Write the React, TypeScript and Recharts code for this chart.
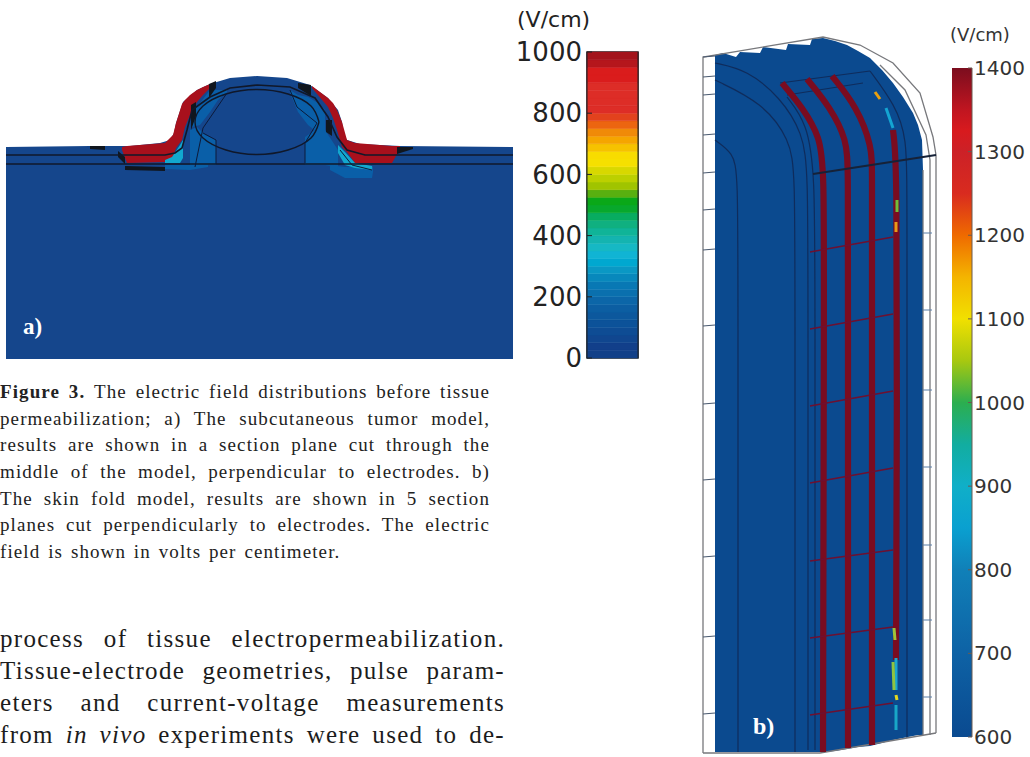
import { Area, Bar, ComposedChart, Line, ReferenceArea, XAxis, YAxis } from "recharts";

// Panel a: field map section as [x, top, bottom]
const tissueA = [[6,147,359],[90,146,359],[130,146,359],[160,143,359],[170,140,359],[174,133,359],[176,123,359],[183,102,359],[197,90,359],[210,84,359],[230,78,359],[257,76,359],[287,78,359],[310,85,359],[328,98,359],[338,110,359],[342,122,359],[344,135,359],[347,140,359],[360,144,359],[400,146,359],[513,147,359]];
const redLeft = [[122,147,150],[127,146,163],[165,143,162],[173,135,157],[176,123,148],[182,104,140],[185,100,127],[190,95,115],[197,90,102],[203,87,95],[210,84,88]];
const redRight = [[312,86,88],[328,98,107],[333,103,118],[337,110,130],[342,122,147],[347,140,152],[355,143,163],[392,146,163],[400,146,149]];
const midBlue = [
  [[192,113,127],[200,103,125],[210,90,112],[218,90,100],[227,90,92]],
  [[190,130,165],[197,127,165],[205,135,165],[216,140,165]],
  [[290,90,93],[298,95,112],[308,97,125],[318,103,133],[325,110,130]],
  [[305,137,165],[315,130,165],[325,130,165],[338,150,167]],
  [[330,165,170],[345,167,178],[372,167,178],[373,166,172]],
  [[165,165,169],[190,165,170],[208,165,167]],
];
const cyanBits = [
  [[165,160,163],[172,157,163],[180,145,163],[183,140,158]],
  [[338,145,153],[345,152,165],[355,163,168],[372,166,170]],
];
const blackBits = [
  [[90,146,149],[105,146,150]],
  [[118,151,157],[125,157,164]],
  [[125,166,170],[165,167,171]],
  [[209,84,98],[216,81,88]],
  [[191,105,130],[196,102,116]],
  [[298,83,88],[311,85,96]],
  [[326,120,132],[332,120,136]],
  [[397,147,154],[413,147,149]],
];
const skinLine = [[6,155],[120,155],[165,155],[175,153],[182,148],[187,130],[192,110],[210,97],[230,88],[257,85],[290,87],[315,98],[328,117],[337,137],[347,150],[365,155],[513,155]];
const fatLine = [[6,164],[513,164]];
const tumorLine = [[319,122],[311,138],[288,150],[257,154.5],[226,150],[203,138],[195,122],[203,106],[226,94],[257,89.5],[288,94],[311,106],[319,122]];
const meshLines = [
  [[227,93],[203,128],[195,167]],
  [[203,133],[216,140],[216,164]],
  [[290,90],[297,107],[317,123],[305,143],[305,163]],
  [[340,150],[352,165],[372,170]],
];

// Panel b: skin fold model
const tissueB = [[715,55,752],[723,53,752],[736,57,752],[740,52,752],[760,53,752],[763,47,752],[786,50,752],[788,44,752],[810,45,752],[812,39,752],[823,38,752],[835,41,751],[847,45,749],[858,51,747],[870,58,746],[882,70,743],[893,83,740],[903,97,738],[913,113,736],[918,125,735],[922,140,735],[923,170,735]];
const frameOuter = [[703,753],[703,57],[823,37],[860,45],[893,63],[920,93],[933,137],[936,155],[936,733]];
const frameBottom = [[703,753],[820,753],[936,733]];
const frameInner = [
  [[930,735],[930,160],[926,135],[905,90],[880,65]],
  [[923,170],[923,735]],
];
const electrodes = [
  [[782,83],[803,108],[820,137],[824,170],[824,300],[823,752]],
  [[807,79],[830,107],[847,140],[848,170],[848,300],[848,748]],
  [[832,76],[857,107],[872,147],[872,170],[872,300],[872,745]],
  [[893,130],[897,163],[897,400],[896,660]],
];
const sectionsLeft = [252, 329, 406, 483, 561, 638, 715];
const sectionsRight = [237, 314, 391, 468, 550, 627, 703];
const geometryLines = [
  [[715,63],[747,70],[780,97],[803,133],[808,173],[808,300],[808,750]],
  [[715,80],[763,103],[790,140],[795,173],[795,300],[795,752]],
  [[715,140],[733,153],[738,173],[738,300],[738,752]],
  [[787,97],[807,123],[815,173],[815,300],[815,750]],
  [[870,71],[895,105],[907,137],[907,200],[907,738]],
  [[780,83],[870,71]],
  [[787,95],[863,83]],
];
const ticksLeftB = [57, 77, 95, 135, 173, 210, 250, 326, 404, 480, 557, 637, 714];
const ticksRightB = [233, 310, 390, 467, 545, 620, 697];
const speckles = [
  { color: "#14a5d2", pts: [[886,108],[893,128]] },
  { color: "#e8a010", pts: [[875,92],[880,99]] },
  { color: "#6fbe3a", pts: [[897,200],[897,212]] },
  { color: "#e89a18", pts: [[896,222],[896,232]] },
  { color: "#9ec43a", pts: [[894,628],[895,640]] },
  { color: "#1aa6cf", pts: [[896,658],[896,690]] },
  { color: "#8fc540", pts: [[893,662],[894,690]] },
  { color: "#e4d820", pts: [[896,695],[897,700]] },
  { color: "#18a8c8", pts: [[896,705],[896,730]] },
];

// Colour bars
const ticksA = [0, 200, 400, 600, 800, 1000];
const bandColorsA = ["#124088","#123f8a","#10468f","#0e4c94","#0c5299","#0c589d","#0c5ea2","#0c66a8","#0a70ae","#0878b4","#0888bc","#0a98c4","#00a8d0","#10b4d4","#16b8c4","#14b4b0","#10b498","#10b080","#08ac60","#08a82c","#0aa818","#58b010","#a0c400","#bcd000","#d8d800","#f5e000","#f8dc00","#f6c200","#f5a500","#f08a08","#ec6510","#e2421d","#dd2d27","#dd2d27","#dd2d27","#dd2d27","#da1c1c","#da1c1c","#b5161c","#a3141c"];
const ticksB = [600, 700, 800, 900, 1000, 1100, 1200, 1300, 1400];
const gradientB = [
  [1400,"#7b0d1e"],[1350,"#c01520"],[1325,"#d81a1e"],[1300,"#cc2127"],[1250,"#d92b1f"],[1200,"#ef6a00"],[1150,"#f4b400"],[1100,"#f1e000"],[1050,"#a8c810"],[1000,"#2cae4f"],[950,"#12ada0"],[900,"#10afc8"],[850,"#0aa0d0"],[800,"#1080b8"],[700,"#0e62a5"],[600,"#0a4a90"],
] as const;

const captionLines = [
  "The electric field distributions before tissue",
  "permeabilization; a) The subcutaneous tumor model,",
  "results are shown in a section plane cut through the",
  "middle of the model, perpendicular to electrodes. b)",
  "The skin fold model, results are shown in 5 section",
  "planes cut perpendicularly to electrodes. The electric",
];
const captionLast = "field is shown in volts per centimeter.";
const bodyLines = [
  "process of tissue electropermeabilization.",
  "Tissue-electrode geometries, pulse param-",
  "eters and current-voltage measurements",
];

const serif = "'Liberation Serif', serif";
const sans = "'DejaVu Sans', sans-serif";

const band = (rows: number[][]) => rows.map(([x, t, b]) => ({ x, y: [t, b] }));
const path = (pts: number[][]) => pts.map(([x, y]) => ({ x, y }));

function fill(rows: number[][], color: string, key: string) {
  return <Area key={key} data={band(rows)} dataKey="y" type="linear" fill={color} fillOpacity={1} stroke="none" dot={false} activeDot={false} isAnimationActive={false} />;
}
function stroke(pts: number[][], color: string, width: number, key: string, curve: "linear" | "natural" | "basis" = "linear") {
  return <Line key={key} data={path(pts)} dataKey="y" type={curve} stroke={color} strokeWidth={width} dot={false} activeDot={false} isAnimationActive={false} />;
}

const barRowA = [Object.fromEntries(bandColorsA.map((_, i) => ["s" + i, 25]))];
const noDot = { r: 0, fill: "none", stroke: "none" };

function Text({ x, y, size, children, ...rest }: any) {
  return <div style={{ position: "absolute", left: x, top: y, fontSize: size, whiteSpace: "nowrap", lineHeight: 1, ...rest }}>{children}</div>;
}

export default function App() {
  return (
    <div style={{ position: "absolute", left: 0, top: 0, width: 1030, height: 757, overflow: "hidden", background: "#fff" }}>
      <ComposedChart width={1030} height={757} margin={{ top: 0, right: 0, bottom: 0, left: 0 }} style={{ position: "absolute", left: 0, top: 0 }}>
        <XAxis type="number" dataKey="x" domain={[0, 1030]} hide allowDataOverflow />
        <YAxis type="number" domain={[0, 757]} reversed hide allowDataOverflow width={0} />
        {fill(tissueA, "#15468c", "tissueA")}
        {midBlue.map((r, i) => fill(r, "#0a5fa8", "mid" + i))}
        {fill(redLeft, "#a8101c", "redL")}
        {fill(redRight, "#a8101c", "redR")}
        {cyanBits.map((r, i) => fill(r, "#12a8cf", "cy" + i))}
        {blackBits.map((r, i) => fill(r, "#10161e", "bk" + i))}
        {fill(tissueB, "#0b4a8f", "tissueB")}
        {stroke(skinLine, "#10182a", 1.6, "skin")}
        {stroke(fatLine, "#10182a", 1.6, "fat")}
        {stroke(tumorLine, "#10182a", 1.4, "tumor", "natural")}
        {meshLines.map((p, i) => stroke(p, "#0c1a3a", 1, "mesh" + i))}
        {geometryLines.map((p, i) => stroke(p, "#0f2c5c", 1.2, "geo" + i, "basis"))}
        {stroke(frameOuter, "#77787c", 1.3, "frameOuter")}
        {stroke(frameBottom, "#77787c", 1.6, "frameBottom")}
        {frameInner.map((p, i) => stroke(p, "#77787c", 1.3, "frame" + i))}
        {ticksLeftB.map((y, i) => stroke([[703, y], [715, y - 1]], "#4a5a70", 1.2, "tl" + i))}
        {ticksRightB.map((y, i) => stroke([[923, y], [932, y]], "#5a7ea8", 1, "tr" + i))}
        {electrodes.map((p, i) => stroke(p, "#7a0c20", 6.2, "el" + i, "basis"))}
        {sectionsLeft.map((y, i) => stroke([[810, y], [893, sectionsRight[i]]], "#6e1030", 1.6, "sec" + i))}
        {stroke([[813, 174], [936, 155]], "#162238", 2, "plane")}
        {speckles.map((s, i) => stroke(s.pts, s.color, 3, "sp" + i))}
      </ComposedChart>

      <ComposedChart width={150} height={382} data={barRowA} barCategoryGap={0} margin={{ top: 52, right: 0, bottom: 24, left: 0 }} style={{ position: "absolute", left: 500, top: 0 }}>
        <XAxis hide />
        <YAxis yAxisId="l" type="number" domain={[0, 1000]} ticks={ticksA} width={87} tickSize={-5} tickMargin={10} stroke="#1c2024" tick={{ fontSize: 26, fontFamily: sans, fill: "#222" }} interval={0} />
        <YAxis yAxisId="r" orientation="right" type="number" domain={[0, 1000]} ticks={ticksA} width={12} tickSize={-5} tick={false} stroke="#1c2024" />
        {bandColorsA.map((c, i) => (
          <Bar key={i} yAxisId="l" dataKey={"s" + i} stackId="a" fill={c} stroke={c} strokeWidth={0.5} isAnimationActive={false} />
        ))}
        <Line yAxisId="r" dataKey="s0" stroke="none" dot={noDot} activeDot={false} isAnimationActive={false} />
        <ReferenceArea yAxisId="l" y1={0} y2={1000} fill="none" stroke="#1c2024" strokeWidth={1.5} />
      </ComposedChart>

      <ComposedChart width={78} height={757} data={[{ v: 1400 }]} barCategoryGap={0} margin={{ top: 68, right: 0, bottom: 20, left: 0 }} style={{ position: "absolute", left: 952, top: 0 }}>
        <defs>
          <linearGradient id="gradB" x1="0" y1="0" x2="0" y2="1">
            {gradientB.map(([v, c]) => (
              <stop key={v} offset={(1400 - v) / 800} stopColor={c} />
            ))}
          </linearGradient>
        </defs>
        <XAxis hide />
        <YAxis yAxisId="l" type="number" domain={[600, 1400]} ticks={ticksB} width={0} tick={false} tickSize={-4} stroke="#6a5a50" />
        <YAxis yAxisId="r" orientation="right" type="number" domain={[600, 1400]} ticks={ticksB} width={58} tickSize={-4} tickMargin={6} stroke="#6a5a50" tick={{ fontSize: 20, fontFamily: sans, fill: "#333" }} interval={0} />
        <Bar yAxisId="l" dataKey="v" fill="url(#gradB)" isAnimationActive={false} />
        <Line yAxisId="r" dataKey="v" stroke="none" dot={noDot} activeDot={false} isAnimationActive={false} />
      </ComposedChart>

      <Text x={517} y={9} size={22} fontFamily={sans} color="#222">(V/cm)</Text>
      <Text x={950} y={26} size={18} fontFamily={sans} color="#333">(V/cm)</Text>
      <Text x={23} y={315} size={23} fontFamily={serif} fontWeight={700} color="#fff">a)</Text>
      <Text x={753} y={714} size={24} fontFamily={serif} fontWeight={700} color="#fff">b)</Text>

      <div style={{ position: "absolute", left: 0, top: 379, width: 490, fontFamily: serif, fontSize: 19, letterSpacing: 1.1, color: "#222" }}>
        {captionLines.map((l, i) => (
          <div key={i} style={{ height: 26.7, lineHeight: "26.7px", whiteSpace: "nowrap", textAlign: "justify", textAlignLast: "justify" }}>
            {i === 0 ? <b>Figure 3. </b> : null}{l}
          </div>
        ))}
        <div style={{ height: 26.7, lineHeight: "26.7px", wordSpacing: 2 }}>{captionLast}</div>
      </div>

      <div style={{ position: "absolute", left: 0, top: 623, width: 505, fontFamily: serif, fontSize: 25, letterSpacing: 1.3, color: "#1c1c1c" }}>
        {bodyLines.map((l, i) => (
          <div key={i} style={{ height: 32, lineHeight: "32px", whiteSpace: "nowrap", textAlign: "justify", textAlignLast: "justify" }}>{l}</div>
        ))}
        <div style={{ height: 32, lineHeight: "32px", whiteSpace: "nowrap", textAlign: "justify", textAlignLast: "justify" }}>from <i>in vivo</i> experiments were used to de-</div>
      </div>
    </div>
  );
}
